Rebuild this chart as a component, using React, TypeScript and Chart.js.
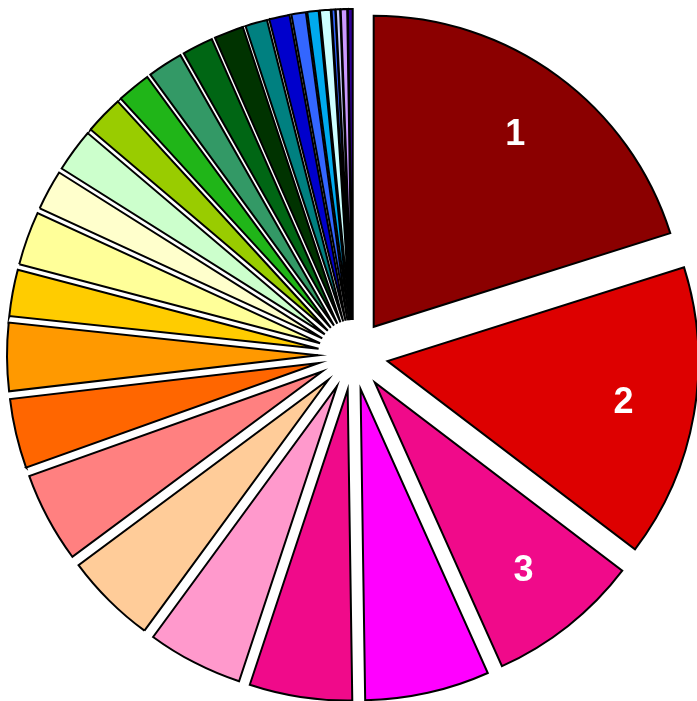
import React, { useEffect, useRef } from "react";
import { Chart, registerables } from "chart.js";

Chart.register(...registerables);

const categories = [
  "1", "2", "3", "4", "5", "6", "7", "8", "9", "10",
  "11", "12", "13", "14", "15", "16", "17", "18", "19", "20",
  "21", "22", "23", "24", "25", "26", "27", "28",
];

const values = [
  72.5, 54.8, 28.6, 23.3, 19.2, 17.9, 17.2, 16.9, 13.0, 12.7,
  8.7, 10.0, 7.5, 8.1, 7.2, 6.3, 6.6, 5.8, 5.5, 4.1,
  3.8, 2.7, 2.1, 2.0, 0.7, 0.8, 1.2, 0.9,
];

const colors = [
  "#8B0000", "#DD0000", "#F00A8A", "#FF00FF", "#F00A8A", "#FF99CC", "#FFCC99", "#FF8080", "#FF6600", "#FF9900",
  "#FFCC00", "#FFFF99", "#FFFFCC", "#CCFFCC", "#99CC00", "#20B518", "#339966", "#006614", "#003300", "#008080",
  "#0000CC", "#3366FF", "#00AAEE", "#CCFFFF", "#3366FF", "#CCCCFF", "#CC99FF", "#330099",
];

const shownLabels = ["1", "2", "3"];

const EXPLODE = 35; // px each slice is pulled out along its mid angle

// Pull every slice outward along its own mid angle (shape and radius unchanged)
const explodePlugin = {
  id: "explode",
  afterDatasetUpdate(chart: any, args: any) {
    const meta = args.meta;
    meta.data.forEach((arc: any) => {
      const mid = (arc.startAngle + arc.endAngle) / 2;
      arc.x += Math.cos(mid) * EXPLODE;
      arc.y += Math.sin(mid) * EXPLODE;
    });
  },
};

const labelPlugin = {
  id: "sliceLabels",
  afterDatasetsDraw(chart: any) {
    const meta = chart.getDatasetMeta(0);
    const ctx = chart.ctx;
    ctx.save();
    ctx.fillStyle = "#FFFFFF";
    ctx.font = "bold 36px 'Liberation Sans', Arial, sans-serif";
    ctx.textAlign = "center";
    ctx.textBaseline = "middle";
    shownLabels.forEach((t, i) => {
      const arc = meta.data[i];
      const mid = (arc.startAngle + arc.endAngle) / 2;
      const r = arc.outerRadius * 0.77;
      ctx.fillText(t, arc.x + Math.cos(mid) * r, arc.y + Math.sin(mid) * r + 1);
    });
    ctx.restore();
  },
};

export default function App() {
  const ref = useRef<HTMLCanvasElement>(null);
  useEffect(() => {
    if (!ref.current) return;
    const chart = new Chart(ref.current, {
      type: "pie",
      data: {
        labels: categories,
        datasets: [
          {
            data: values,
            backgroundColor: colors,
            borderColor: "#000000",
            borderWidth: 2,
            borderJoinStyle: "miter",
            radius: 311,
          } as any,
        ],
      },
      options: {
        responsive: false,
        animation: false,
        events: [],
        layout: { padding: { left: 9, top: 9, right: 0, bottom: 0 } },
        plugins: {
          legend: { display: false },
          tooltip: { enabled: false },
          title: { display: false },
        },
      },
      plugins: [explodePlugin, labelPlugin],
    });
    return () => chart.destroy();
  }, []);
  return (
    <div style={{ position: "fixed", left: 0, top: 0, width: 697, height: 701, background: "#fff" }}>
      <canvas ref={ref} width={697} height={701} style={{ display: "block" }} />
    </div>
  );
}
